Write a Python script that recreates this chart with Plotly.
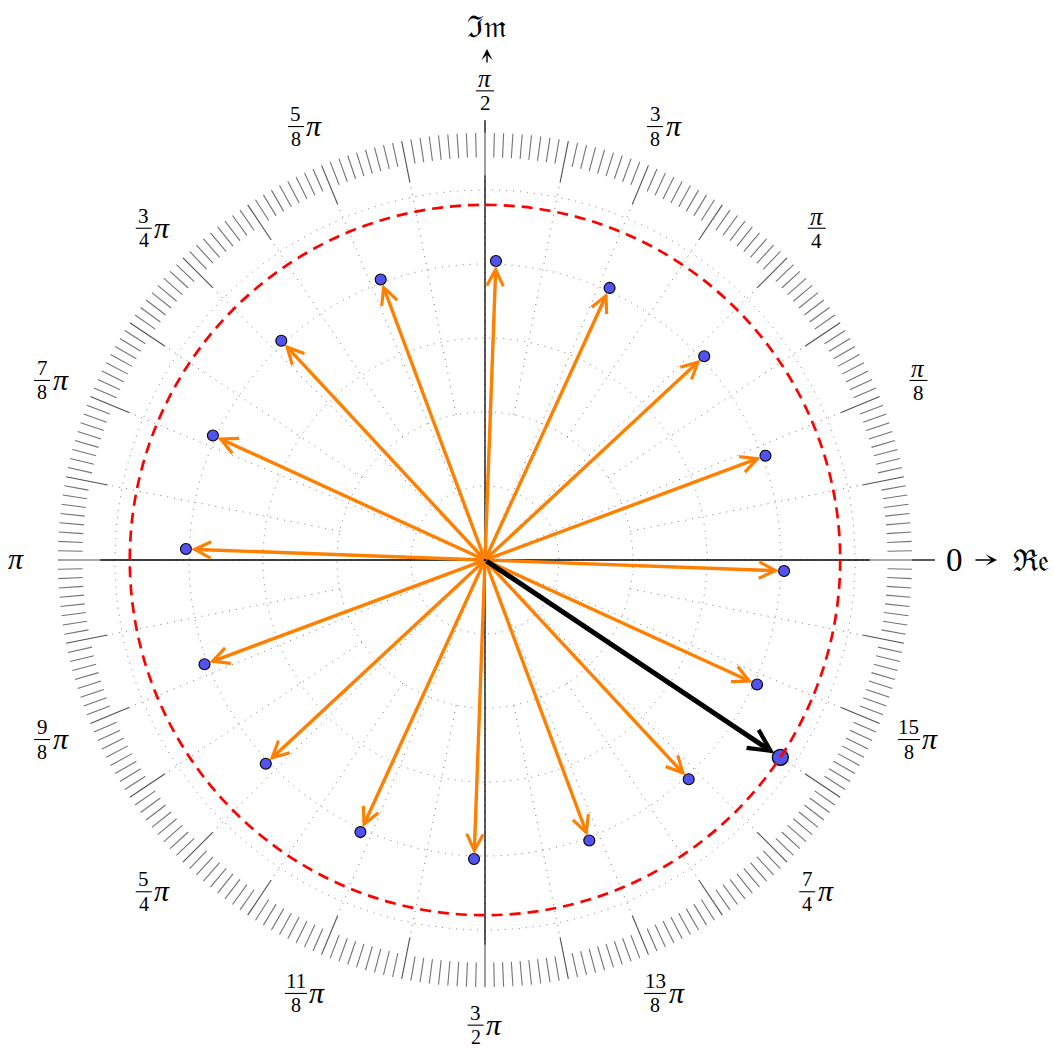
import math
import plotly.graph_objects as go

# ---------------- data ----------------
# z and its sixteen 16th roots (argument in degrees, modulus)
z_arg_deg = -33.75
z_mod = 1.2
root_arg_deg = [-2.1, 20.4, 42.9, 65.4, 87.9, 110.4, 132.9, 155.4,
                177.9, -159.6, -137.1, -114.6, -92.1, -69.6, -47.1, -24.6]
root_mod = [1.011, 1.011, 1.011, 1.011, 1.011, 1.011, 1.011, 1.011,
            1.011, 1.011, 1.011, 1.011, 1.011, 1.011, 1.011, 1.011]

# polar grid
grid_radii = [0.25, 0.5, 0.75, 1.0, 1.25]

# angle labels at multiples of pi/8 (numerator / denominator of k*pi/8)
label_eighths = [0, 1, 2, 3, 4, 5, 6, 7, 8, 9, 10, 11, 12, 13, 14, 15]
label_num = ["0", "π", "π", "3", "π", "5", "3", "7", "π", "9", "5", "11", "3", "13", "7", "15"]
label_den = ["", "8", "4", "8", "2", "8", "4", "8", "", "8", "4", "8", "2", "8", "4", "8"]

# ---------------- geometry / style ----------------
W, H = 1054, 1048
CX, CY = 485, 560          # pixel position of the origin
PX = 296.0                 # pixels per unit

ORANGE = "#FF8000"
BLUE = "#5252EE"
GRAY = "rgb(120,120,120)"
SERIF = "Liberation Serif, DejaVu Serif, serif"


def px(n):
    return n / PX


def pol(r, deg):
    a = math.radians(deg)
    return r * math.cos(a), r * math.sin(a)


shapes = []
annotations = []
traces = []

# dotted grid circles
for r in grid_radii:
    shapes.append(dict(type="circle", xref="x", yref="y", x0=-r, y0=-r, x1=r, y1=r,
                       line=dict(color=GRAY, width=1, dash="1px,6px"), layer="below"))

# dotted spokes every pi/16 (odd ones only in the outer part)
for k in range(32):
    deg = k * 11.25
    r0 = 0.0 if k % 2 == 0 else 0.5
    x0, y0 = pol(r0, deg)
    x1, y1 = pol(1.30, deg)
    shapes.append(dict(type="line", xref="x", yref="y", x0=x0, y0=y0, x1=x1, y1=y1,
                       line=dict(color=GRAY, width=1, dash="1px,6px"), layer="below"))

# angular scale ring: long ticks every pi/16, short ticks in between
tx, ty, lx, ly = [], [], [], []
for k in range(288):
    deg = k * 1.25
    if k % 9 == 0:
        a, b = pol(1.30, deg)
        c, d = pol(1.443, deg)
        lx += [a, c, None]
        ly += [b, d, None]
    else:
        a, b = pol(1.36, deg)
        c, d = pol(1.443, deg)
        tx += [a, c, None]
        ty += [b, d, None]
traces.append(go.Scatter(x=tx, y=ty, mode="lines", line=dict(color="rgb(115,115,115)", width=1.1),
                         hoverinfo="skip", showlegend=False))
traces.append(go.Scatter(x=lx, y=ly, mode="lines", line=dict(color="rgb(80,80,80)", width=1.1),
                         hoverinfo="skip", showlegend=False))

# axes
traces.append(go.Scatter(x=[-1.30, 1.30, None, 1.443, 1.52], y=[0, 0, None, 0, 0], mode="lines",
                         line=dict(color="black", width=1.3), hoverinfo="skip", showlegend=False))
traces.append(go.Scatter(x=[0, 0, None, 0, 0], y=[-1.30, 1.30, None, 1.443, 1.486], mode="lines",
                         line=dict(color="black", width=1.3), hoverinfo="skip", showlegend=False))

# reference circle |w| = |z|
shapes.append(dict(type="circle", xref="x", yref="y", x0=-z_mod, y0=-z_mod, x1=z_mod, y1=z_mod,
                   line=dict(color="#FF0000", width=2.7, dash="11px,7px"), layer="above"))

# arrows from the origin to each root
for deg, m in zip(root_arg_deg, root_mod):
    x, y = pol(m, deg)
    annotations.append(dict(x=x, y=y, ax=0, ay=0, xref="x", yref="y", axref="x", ayref="y",
                            text="", showarrow=True, arrowhead=5, arrowsize=0.95, arrowwidth=3.4,
                            arrowcolor=ORANGE, standoff=5))

# arrow to z
zx, zy = pol(z_mod, z_arg_deg)
annotations.append(dict(x=zx, y=zy, ax=0, ay=0, xref="x", yref="y", axref="x", ayref="y",
                        text="", showarrow=True, arrowhead=5, arrowsize=0.85, arrowwidth=5,
                        arrowcolor="black", standoff=7))

# root points and z
rx = [pol(m, d)[0] for d, m in zip(root_arg_deg, root_mod)]
ry = [pol(m, d)[1] for d, m in zip(root_arg_deg, root_mod)]
traces.append(go.Scatter(x=rx, y=ry, mode="markers",
                         marker=dict(size=11, color=BLUE, line=dict(color="black", width=1.1)),
                         hoverinfo="skip", showlegend=False))
traces.append(go.Scatter(x=[zx], y=[zy], mode="markers",
                         marker=dict(size=16, color=BLUE, line=dict(color="black", width=1.3)),
                         hoverinfo="skip", showlegend=False))


def text_ann(x, y, s, size):
    return dict(x=x, y=y, xref="x", yref="y", text=s, showarrow=False,
                font=dict(family=SERIF, size=size, color="black"),
                xanchor="center", yanchor="middle")


def bar(xa, xb, y):
    return dict(type="line", xref="x", yref="y", x0=xa, x1=xb, y0=y, y1=y,
                line=dict(color="black", width=1.1), layer="above")


# angle labels
LABEL_R = 1.585
for k, num, den in zip(label_eighths, label_num, label_den):
    xc, yc = pol(LABEL_R, k * 22.5)
    if k == 12:
        yc += px(4)
    if den == "":
        if num == "π":
            annotations.append(text_ann(xc, yc + px(2), "<i>π</i>", 30))
        else:
            annotations.append(text_ann(xc, yc, num, 33))
    elif num == "π":
        annotations.append(text_ann(xc, yc + px(12), "<i>π</i>", 25))
        annotations.append(text_ann(xc, yc - px(12.5), den, 21))
        shapes.append(bar(xc - px(9), xc + px(9), yc))
    else:
        fw = 22 if len(num) > 1 else 16
        total = fw + 2 + 17
        left = xc - px(total / 2)
        fcx = left + px(fw / 2)
        annotations.append(text_ann(fcx, yc + px(12.5), num, 21))
        annotations.append(text_ann(fcx, yc - px(12), den, 20))
        shapes.append(bar(fcx - px(fw / 2), fcx + px(fw / 2), yc))
        annotations.append(text_ann(left + px(fw + 2 + 8.5), yc + px(1), "<i>π</i>", 30))

# axis names with their small arrows
annotations.append(dict(x=px(997 - CX), y=0, ax=px(974 - CX), ay=0, xref="x", yref="y",
                        axref="x", ayref="y", text="", showarrow=True, arrowhead=3,
                        arrowsize=1.35, arrowwidth=1.4, arrowcolor="black"))
annotations.append(dict(x=px(2), y=px(CY - 49), ax=px(2), ay=px(CY - 64), xref="x", yref="y",
                        axref="x", ayref="y", text="", showarrow=True, arrowhead=3,
                        arrowsize=1.35, arrowwidth=1.4, arrowcolor="black"))
annotations.append(text_ann(px(1031 - CX), 0, "ℜ𝔢", 30))
annotations.append(text_ann(px(2), px(CY - 26), "ℑ𝔪", 30))

fig = go.Figure(data=traces)
fig.update_layout(
    width=W, height=H, autosize=False,
    margin=dict(l=0, r=0, t=0, b=0, pad=0),
    paper_bgcolor="white", plot_bgcolor="white",
    xaxis=dict(range=[-CX / PX, (W - CX) / PX], visible=False, fixedrange=True),
    yaxis=dict(range=[-(H - CY) / PX, CY / PX], visible=False, fixedrange=True),
    shapes=shapes, annotations=annotations, showlegend=False,
)
fig.write_html("out.html")
